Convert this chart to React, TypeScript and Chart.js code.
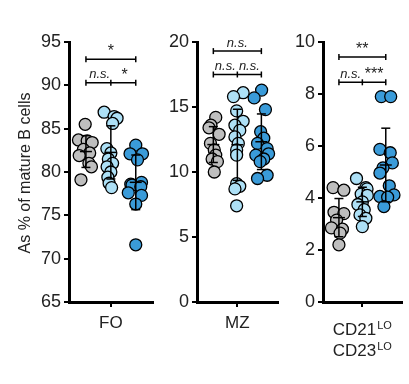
import React, { useEffect, useRef } from 'react';
import { Chart, registerables } from 'chart.js';

Chart.register(...registerables);

const FONT = '"Liberation Sans", Arial, Helvetica, sans-serif';
const TEXT = '#222222';
const GROUP_COLORS = ['#bebebe', '#ade0f6', '#3a9bd9'];

// ---------- data: FO ----------
const foTicks = [65, 70, 75, 80, 85, 90, 95];
const foGrey = [85.5, 83.7, 83.6, 83.4, 82.6, 82.2, 81.9, 81.0, 80.6, 79.1];
const foGreyX = [-0.03, -0.3, 0.05, 0.25, -0.1, 0.15, -0.27, 0.12, 0.22, -0.2];
const foLight = [86.9, 86.4, 86.2, 85.6, 82.7, 82.2, 81.5, 81.0, 80.6, 80.0, 79.4, 78.7, 78.2];
const foLightX = [-0.27, 0.13, 0.25, 0.07, -0.16, 0.0, -0.1, 0.07, -0.15, 0.0, -0.12, -0.07, 0.03];
const foBlue = [83.1, 82.1, 82.1, 81.4, 78.8, 78.6, 78.5, 78.3, 77.6, 77.3, 76.3, 71.6];
const foBlueX = [0.0, -0.23, 0.27, 0.07, 0.23, -0.2, -0.15, 0.2, -0.3, 0.23, 0.0, 0.0];

// ---------- data: MZ ----------
const mzTicks = [0, 5, 10, 15, 20];
const mzGrey = [14.2, 13.6, 13.4, 12.9, 12.2, 11.7, 11.3, 11.0, 10.8, 10.0];
const mzGreyX = [0.1, -0.1, -0.18, 0.24, -0.12, 0.04, 0.1, -0.05, 0.17, 0.04];
const mzLight = [16.1, 15.8, 14.7, 13.9, 13.6, 13.2, 12.7, 12.2, 11.7, 11.3, 9.1, 8.9, 8.7, 7.4];
const mzLightX = [0.24, -0.16, -0.03, 0.24, -0.1, 0.1, -0.1, 0.04, -0.03, -0.03, -0.03, 0.1, -0.1, -0.03];
const mzBlue = [16.3, 15.7, 14.8, 13.1, 12.6, 12.2, 11.8, 11.4, 11.3, 11.0, 10.8, 9.75, 9.5];
const mzBlueX = [0.01, -0.3, 0.17, -0.03, 0.1, -0.16, 0.24, 0.3, -0.23, 0.1, -0.05, 0.24, -0.16];

// ---------- data: CD21lo CD23lo ----------
const cdTicks = [0, 2, 4, 6, 8, 10];
const cdGrey = [4.4, 4.3, 3.45, 3.4, 3.15, 2.85, 2.8, 2.65, 2.2];
const cdGreyX = [-0.25, 0.21, -0.21, 0.21, -0.1, -0.32, 0.15, 0.05, 0.0];
const cdLight = [4.75, 4.4, 4.35, 4.15, 4.1, 3.85, 3.75, 3.55, 3.35, 3.22, 2.9];
const cdLightX = [-0.25, 0.15, 0.2, -0.05, 0.21, 0.0, -0.19, 0.08, -0.1, 0.15, 0.0];
const cdBlue = [7.9, 7.9, 5.87, 5.74, 5.35, 5.16, 4.96, 4.47, 4.12, 4.06, 4.03, 3.67];
const cdBlueX = [-0.19, 0.21, -0.25, 0.19, 0.28, -0.12, -0.25, 0.15, 0.35, -0.25, 0.08, -0.08];

const yTitle = 'As % of mature B cells';

type BracketLabel = { x: number; text: string };
type Bracket = { x1: number; x2: number; y: number; ticks: number[]; labels: BracketLabel[] };

const foBrackets: Bracket[] = [
  { x1: 1, x2: 3, y: 93.0, ticks: [1, 3], labels: [{ x: 2, text: '*' }] },
  { x1: 1, x2: 3, y: 90.3, ticks: [1, 2, 3], labels: [{ x: 1.55, text: 'n.s.' }, { x: 2.55, text: '*' }] },
];
const mzBrackets: Bracket[] = [
  { x1: 1, x2: 3, y: 19.3, ticks: [1, 3], labels: [{ x: 2, text: 'n.s.' }] },
  { x1: 1, x2: 3, y: 17.5, ticks: [1, 2, 3], labels: [{ x: 1.5, text: 'n.s.' }, { x: 2.5, text: 'n.s.' }] },
];
const cdBrackets: Bracket[] = [
  { x1: 1, x2: 3, y: 9.42, ticks: [1, 3], labels: [{ x: 2, text: '**' }] },
  { x1: 1, x2: 3, y: 8.45, ticks: [1, 2, 3], labels: [{ x: 1.5, text: 'n.s.' }, { x: 2.5, text: '***' }] },
];

type PanelDef = {
  left: number;
  width: number;
  yAxisWidth: number;
  padRight: number;
  yMin: number;
  yMax: number;
  yTicks: number[];
  xLabel: string;
  superLabel?: [string, string][];
  series: number[][];
  jitter: number[][];
  brackets: Bracket[];
  title?: string;
};

const panels: PanelDef[] = [
  {
    left: 0, width: 160, yAxisWidth: 69, padRight: 7,
    yMin: 65, yMax: 95, yTicks: foTicks, xLabel: 'FO',
    series: [foGrey, foLight, foBlue], jitter: [foGreyX, foLightX, foBlueX],
    brackets: foBrackets, title: yTitle,
  },
  {
    left: 160, width: 125, yAxisWidth: 37, padRight: 4,
    yMin: 0, yMax: 20, yTicks: mzTicks, xLabel: 'MZ',
    series: [mzGrey, mzLight, mzBlue], jitter: [mzGreyX, mzLightX, mzBlueX],
    brackets: mzBrackets,
  },
  {
    left: 285, width: 124, yAxisWidth: 38, padRight: 2,
    yMin: 0, yMax: 10, yTicks: cdTicks, xLabel: '',
    superLabel: [['CD21', 'LO'], ['CD23', 'LO']],
    series: [cdGrey, cdLight, cdBlue], jitter: [cdGreyX, cdLightX, cdBlueX],
    brackets: cdBrackets,
  },
];

const mean = (a: number[]) => a.reduce((s, v) => s + v, 0) / a.length;
const sd = (a: number[]) => {
  const m = mean(a);
  return Math.sqrt(a.reduce((s, v) => s + (v - m) * (v - m), 0) / (a.length - 1));
};

function Panel({ def }: { def: PanelDef }) {
  const ref = useRef<HTMLCanvasElement | null>(null);
  useEffect(() => {
    if (!ref.current) return;
    const overlay = {
      id: 'overlay',
      afterDatasetsDraw(chart: any) {
        const { ctx } = chart;
        const xs = chart.scales.x;
        const ys = chart.scales.y;
        ctx.save();
        ctx.strokeStyle = '#000';
        ctx.lineWidth = 1.5;
        const seg = (x1: number, y1: number, x2: number, y2: number) => {
          ctx.beginPath();
          ctx.moveTo(x1, y1);
          ctx.lineTo(x2, y2);
          ctx.stroke();
        };
        def.series.forEach((vals, i) => {
          const m = mean(vals);
          const s = sd(vals);
          const cx = xs.getPixelForValue(i + 1);
          const yT = ys.getPixelForValue(m + s);
          const yB = ys.getPixelForValue(m - s);
          const yM = ys.getPixelForValue(m);
          seg(cx, yT, cx, yB);
          seg(cx - 4.5, yT, cx + 4.5, yT);
          seg(cx - 4.5, yB, cx + 4.5, yB);
          seg(cx - 6, yM, cx + 6, yM);
        });
        def.brackets.forEach((b) => {
          const y = ys.getPixelForValue(b.y);
          seg(xs.getPixelForValue(b.x1), y, xs.getPixelForValue(b.x2), y);
          b.ticks.forEach((t) => {
            const x = xs.getPixelForValue(t);
            seg(x, y - 3, x, y + 3);
          });
          b.labels.forEach((l) => {
            const x = xs.getPixelForValue(l.x);
            ctx.fillStyle = TEXT;
            ctx.textAlign = 'center';
            ctx.textBaseline = 'alphabetic';
            if (l.text.startsWith('n')) {
              ctx.font = `italic 13px ${FONT}`;
              ctx.fillText(l.text, x, y - 4.5);
            } else {
              ctx.font = `16px ${FONT}`;
              ctx.fillText(l.text, x, y - 3);
            }
          });
        });
        ctx.restore();
      },
      afterDraw(chart: any) {
        const { ctx } = chart;
        ctx.save();
        ctx.fillStyle = TEXT;
        if (def.title) {
          ctx.translate(25.5, 173);
          ctx.rotate(-Math.PI / 2);
          ctx.font = `16px ${FONT}`;
          ctx.textAlign = 'center';
          ctx.textBaseline = 'middle';
          ctx.fillText(def.title, 0, 0);
          ctx.setTransform(1, 0, 0, 1, 0, 0);
        }
        if (def.superLabel) {
          const cx = chart.scales.x.getPixelForValue(2);
          def.superLabel.forEach(([main, sup], k) => {
            const base = 335 + k * 21;
            ctx.font = `17px ${FONT}`;
            const w1 = ctx.measureText(main).width;
            ctx.font = `11px ${FONT}`;
            const w2 = ctx.measureText(sup).width;
            const x0 = cx - (w1 + 1 + w2) / 2;
            ctx.textAlign = 'left';
            ctx.textBaseline = 'alphabetic';
            ctx.font = `17px ${FONT}`;
            ctx.fillText(main, x0, base);
            ctx.font = `11px ${FONT}`;
            ctx.fillText(sup, x0 + w1 + 1, base - 6.5);
          });
        }
        ctx.restore();
      },
    };

    const datasets = def.series.map((vals, i) => ({
      type: 'scatter' as const,
      data: vals.map((v, j) => ({ x: i + 1 + def.jitter[i][j], y: v })),
      backgroundColor: GROUP_COLORS[i],
      borderColor: '#000',
      borderWidth: 1.3,
      pointRadius: 6,
      pointHoverRadius: 6,
      showLine: false,
      order: 3 - i,
    }));

    const chart = new Chart(ref.current, {
      type: 'scatter',
      data: { datasets },
      options: {
        responsive: false,
        animation: false,
        events: [],
        layout: { padding: { left: 0, right: def.padRight, top: 42, bottom: 0 } },
        plugins: { legend: { display: false }, tooltip: { enabled: false } },
        scales: {
          x: {
            type: 'linear',
            min: 0.32,
            max: 3.68,
            afterBuildTicks: (s: any) => { s.ticks = [{ value: 2 }]; },
            afterFit: (s: any) => { s.height = 82; },
            ticks: {
              callback: () => def.xLabel,
              color: TEXT,
              font: { family: FONT, size: 17 },
              padding: 6,
              maxRotation: 0,
              autoSkip: false,
            },
            grid: { display: true, drawOnChartArea: false, drawTicks: true, tickLength: 5, color: '#000', lineWidth: 2 },
            border: { display: true, color: '#000', width: 3 },
          },
          y: {
            type: 'linear',
            min: def.yMin,
            max: def.yMax,
            afterBuildTicks: (s: any) => { s.ticks = def.yTicks.map((v) => ({ value: v })); },
            afterFit: (s: any) => { s.width = def.yAxisWidth; },
            ticks: {
              color: TEXT,
              font: { family: FONT, size: 18 },
              padding: 3,
              autoSkip: false,
            },
            grid: { display: true, drawOnChartArea: false, drawTicks: true, tickLength: 5, color: '#000', lineWidth: 2 },
            border: { display: true, color: '#000', width: 3 },
          },
        },
      },
      plugins: [overlay],
    } as any);
    return () => chart.destroy();
  }, [def]);

  return (
    <canvas
      ref={ref}
      width={def.width}
      height={384}
      style={{ position: 'absolute', left: def.left, top: 0, width: def.width, height: 384 }}
    />
  );
}

export default function App() {
  return (
    <div style={{ position: 'fixed', left: 0, top: 0, width: 409, height: 384, background: '#fff' }}>
      {panels.map((p, i) => (
        <Panel key={i} def={p} />
      ))}
    </div>
  );
}
